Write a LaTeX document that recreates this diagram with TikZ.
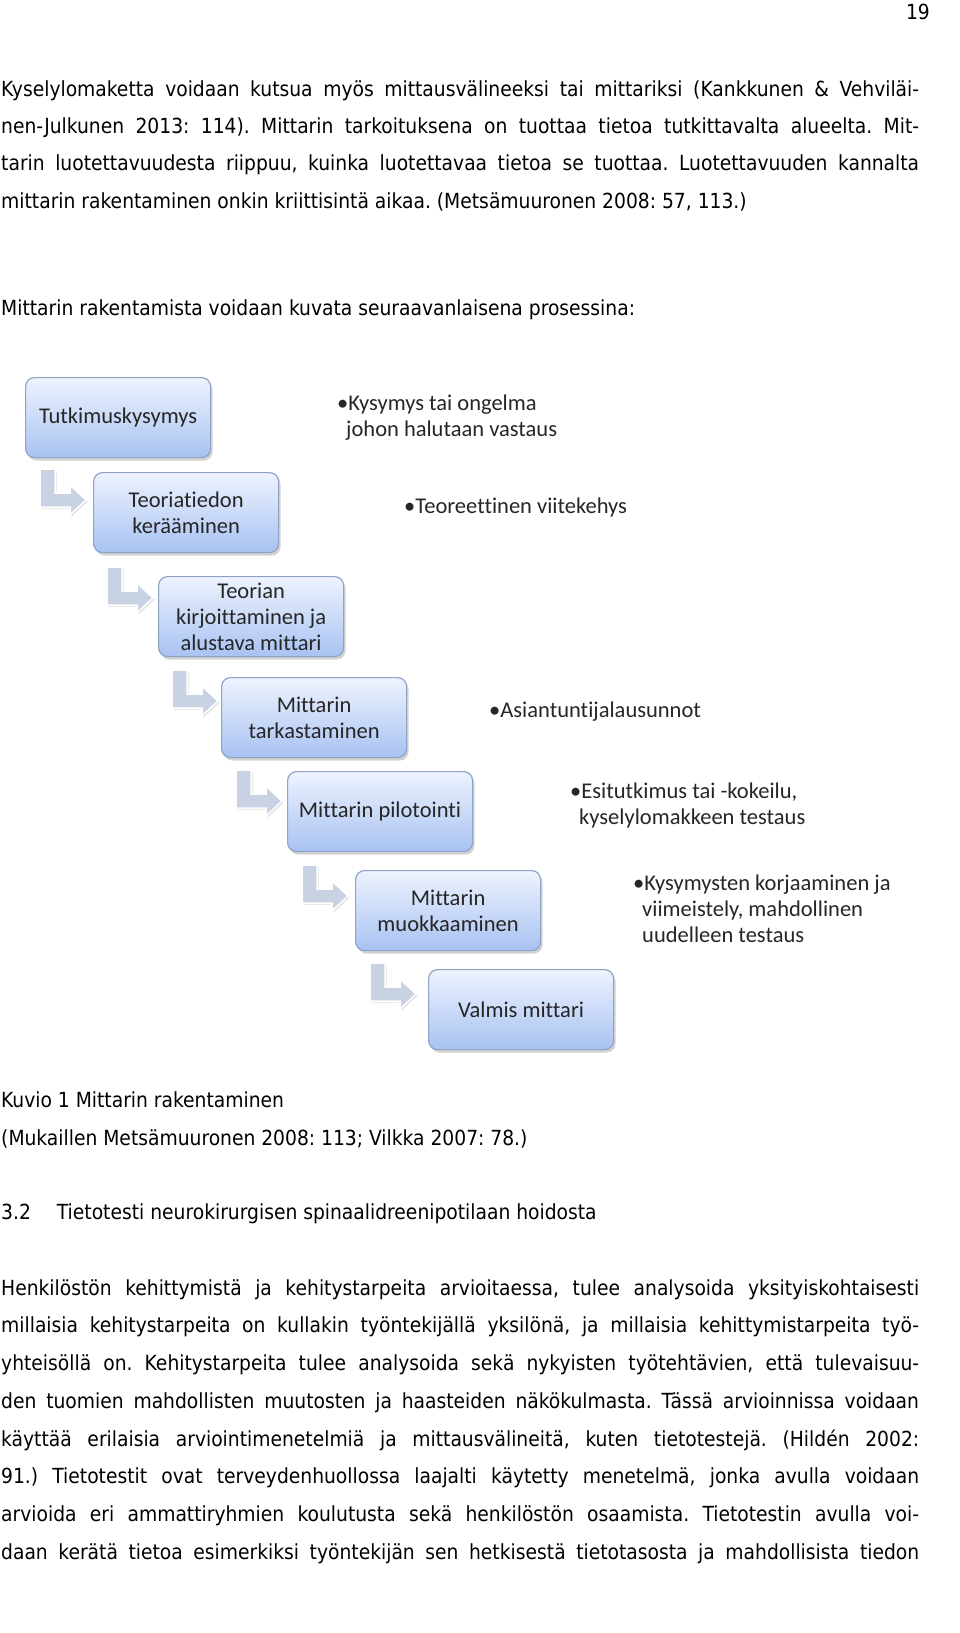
\documentclass[tikz,border=0pt]{standalone}
\usepackage{fontspec}
\setmainfont{DejaVu Sans Condensed}
\newfontfamily\diag[Ligatures={NoCommon}]{Carlito}
\usetikzlibrary{shadows}
\frenchspacing
\definecolor{boxtop}{HTML}{EEF3FE}
\definecolor{boxbot}{HTML}{A8C2F2}
\definecolor{boxedge}{HTML}{8FA3C4}
\definecolor{arrowfill}{HTML}{C8D2E3}
\tikzset{
  x=1pt,y=-1pt,
  body/.style={anchor=west,inner sep=0pt,font=\fontsize{20.8}{24}\selectfont},
  stepbox/.style={draw=boxedge,line width=1.2pt,rounded corners=9pt,top color=boxtop,bottom color=boxbot,
     minimum width=185pt,minimum height=80pt,anchor=north west,align=center,
     font=\diag\fontsize{22.5}{26}\selectfont,text=black!85,
     drop shadow={shadow xshift=2pt,shadow yshift=-3pt,fill=black!35,opacity=0.5}},
  bul/.style={anchor=north west,align=left,inner sep=0pt,font=\diag\fontsize{22.5}{26}\selectfont,text=black!85},
  bent/.style={fill=arrowfill,draw=white,line width=1.5pt,
     drop shadow={shadow xshift=1.5pt,shadow yshift=-1.5pt,fill=black!25,opacity=0.5}}
}
\newcommand\bentarrow[1]{\path[bent] (#1) -- ++(15,0) -- ++(0,24) -- ++(15,0) -- ++(0,-8) -- ++(16,15) -- ++(-16,15) -- ++(0,-8) -- ++(-30,0) -- cycle;}
\newcommand\jl[1]{\makebox[918pt][s]{#1}}
\begin{document}
\begin{tikzpicture}
\useasboundingbox[fill=white] (0,0) rectangle (960,1633);
\node[body,anchor=east] (pn) at (930,12) {19};
\node[body] (p1) at (1,91) {\jl{Kyselylomaketta voidaan kutsua myös mittausvälineeksi tai mittariksi (Kankkunen \& Vehviläi-}};
\node[body] (p2) at (1,128) {\jl{nen-Julkunen 2013: 114). Mittarin tarkoituksena on tuottaa tietoa tutkittavalta alueelta. Mit-}};
\node[body] (p3) at (1,165) {\jl{tarin luotettavuudesta riippuu, kuinka luotettavaa tietoa se tuottaa. Luotettavuuden kannalta}};
\node[body] (p4) at (1,202) {mittarin rakentaminen onkin kriittisintä aikaa. (Metsämuuronen 2008: 57, 113.)};
\node[body] (p5) at (1,310) {Mittarin rakentamista voidaan kuvata seuraavanlaisena prosessina:};

\node[stepbox] (b1) at (25,377) {Tutkimuskysymys};
\node[stepbox] (b2) at (93,472) {Teoriatiedon\\kerääminen};
\node[stepbox] (b3) at (158,576) {Teorian\\kirjoittaminen ja\\alustava mittari};
\node[stepbox] (b4) at (221,677) {Mittarin\\tarkastaminen};
\node[stepbox] (b5) at (287,771) {Mittarin pilotointi};
\node[stepbox] (b6) at (355,870) {Mittarin\\muokkaaminen};
\node[stepbox] (b7) at (428,969) {Valmis mittari};

\bentarrow{40,469}
\bentarrow{107,567}
\bentarrow{172,670}
\bentarrow{236,770}
\bentarrow{302,865}
\bentarrow{370,963}

\node[bul] (t1) at (337,395) {•Kysymys tai ongelma\\\hspace{9pt}johon halutaan vastaus};
\node[bul] (t2) at (404,498) {•Teoreettinen viitekehys};
\node[bul] (t4) at (489,702) {•Asiantuntijalausunnot};
\node[bul] (t5) at (570,783) {•Esitutkimus tai -kokeilu,\\\hspace{9pt}kyselylomakkeen testaus};
\node[bul] (t6) at (633,875) {•Kysymysten korjaaminen ja\\\hspace{9pt}viimeistely, mahdollinen\\\hspace{9pt}uudelleen testaus};

\node[body] (c1) at (1,1100) {Kuvio 1 Mittarin rakentaminen};
\node[body] (c2) at (1,1139) {(Mukaillen Metsämuuronen 2008: 113; Vilkka 2007: 78.)};
\node[body] (h) at (1,1214) {3.2\hspace{26pt}Tietotesti neurokirurgisen spinaalidreenipotilaan hoidosta};

\node[body] (q1) at (1,1290) {\jl{Henkilöstön kehittymistä ja kehitystarpeita arvioitaessa, tulee analysoida yksityiskohtaisesti}};
\node[body] (q2) at (1,1327) {\jl{millaisia kehitystarpeita on kullakin työntekijällä yksilönä, ja millaisia kehittymistarpeita työ-}};
\node[body] (q3) at (1,1365) {\jl{yhteisöllä on. Kehitystarpeita tulee analysoida sekä nykyisten työtehtävien, että tulevaisuu-}};
\node[body] (q4) at (1,1403) {\jl{den tuomien mahdollisten muutosten ja haasteiden näkökulmasta. Tässä arvioinnissa voidaan}};
\node[body] (q5) at (1,1440) {\jl{käyttää erilaisia arviointimenetelmiä ja mittausvälineitä, kuten tietotestejä. (Hildén 2002:}};
\node[body] (q6) at (1,1478) {\jl{91.) Tietotestit ovat terveydenhuollossa laajalti käytetty menetelmä, jonka avulla voidaan}};
\node[body] (q7) at (1,1516) {\jl{arvioida eri ammattiryhmien koulutusta sekä henkilöstön osaamista. Tietotestin avulla voi-}};
\node[body] (q8) at (1,1554) {\jl{daan kerätä tietoa esimerkiksi työntekijän sen hetkisestä tietotasosta ja mahdollisista tiedon}};
\end{tikzpicture}
\end{document}
